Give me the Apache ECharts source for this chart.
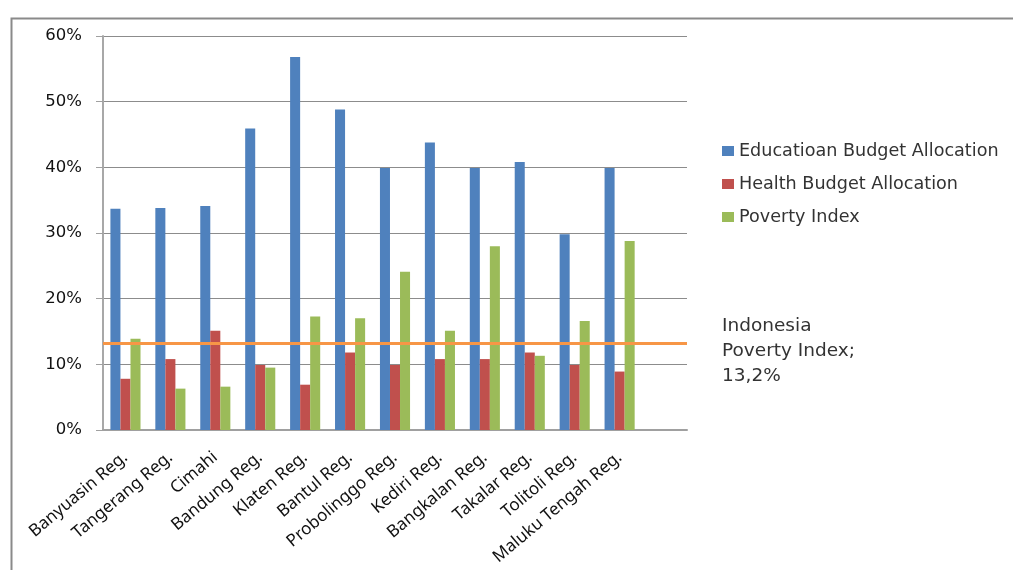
<!DOCTYPE html>
<html>
<head>
<meta charset="utf-8">
<script src="https://cdn.jsdelivr.net/npm/echarts@6/dist/echarts.min.js"></script>
<style>html,body{margin:0;padding:0;background:#fff;}#c{width:1013px;height:570px;}</style>
</head>
<body>
<div id="c"></div>
<script>
const categories = ['Banyuasin Reg.','Tangerang Reg.','Cimahi','Bandung Reg.','Klaten Reg.','Bantul Reg.','Probolinggo Reg.','Kediri Reg.','Bangkalan Reg.','Takalar Reg.','Tolitoli Reg.','Maluku Tengah Reg.'];
const education = [33.7, 33.8, 34.1, 45.9, 56.8, 48.8, 39.9, 43.8, 39.9, 40.8, 29.8, 39.9];
const health = [7.8, 10.8, 15.1, 9.9, 6.9, 11.8, 9.9, 10.8, 10.8, 11.8, 9.9, 8.9];
const poverty = [13.9, 6.3, 6.6, 9.5, 17.3, 17.0, 24.1, 15.1, 28.0, 11.3, 16.6, 28.8];
const nationalPoverty = 13.2;
const nationalLabel = 'Indonesia\nPoverty Index;\n13,2%';
const seriesNames = ['Educatioan Budget Allocation','Health Budget Allocation','Poverty Index'];

const chart = echarts.init(document.getElementById('c'));
const barStyle = (color) => ({ color: color });
chart.setOption({
  animation: false,
  backgroundColor: '#fff',
  graphic: [
    { type: 'rect', left: 9, top: 16, shape: { x: 0, y: 0, width: 1100, height: 700 },
      style: { fill: 'none', stroke: '#8a8a8a', lineWidth: 2 }, silent: true },
    { type: 'text', left: 722, top: 314,
      style: { text: nationalLabel, fill: '#333', font: '18.5px "DejaVu Sans"', lineHeight: 25 } }
  ],
  legend: {
    orient: 'vertical', left: 722, top: 141, padding: 0,
    itemWidth: 12, itemHeight: 10, itemGap: 13,
    icon: 'rect',
    textStyle: { fontFamily: 'DejaVu Sans', fontSize: 17.6, color: '#333', lineHeight: 20 },
    data: seriesNames
  },
  grid: { left: 103, right: 326, top: 36, bottom: 140, containLabel: false },
  xAxis: {
    type: 'category', data: categories, max: categories.length,
    axisLine: { lineStyle: { color: '#a0a0a0', width: 2 } },
    axisTick: { show: false },
    axisLabel: { rotate: 40, interval: 0, fontFamily: 'Noto Sans', fontSize: 17, color: '#111', margin: 25 }
  },
  yAxis: {
    type: 'value', min: 0, max: 60, interval: 10,
    axisLine: { show: true, lineStyle: { color: '#a8a8a8', width: 2 } },
    axisTick: { show: true, length: 7, lineStyle: { color: '#a0a0a0' } },
    axisLabel: { formatter: '{value}%', fontFamily: 'DejaVu Sans', fontSize: 16.5, color: '#111', margin: 21 },
    splitLine: { lineStyle: { color: '#8c8c8c', width: 1 } }
  },
  series: [
    { name: seriesNames[0], type: 'bar', data: education, barGap: '0%', barCategoryGap: '33%',
      itemStyle: barStyle('#4F81BD') },
    { name: seriesNames[1], type: 'bar', data: health,
      itemStyle: barStyle('#C0504D') },
    { name: seriesNames[2], type: 'bar', data: poverty,
      itemStyle: barStyle('#9BBB59'),
      markLine: { silent: true, symbol: 'none', label: { show: false },
        lineStyle: { color: '#F79646', width: 3, type: 'solid' },
        data: [{ yAxis: nationalPoverty }] } }
  ]
});
</script>
</body>
</html>
